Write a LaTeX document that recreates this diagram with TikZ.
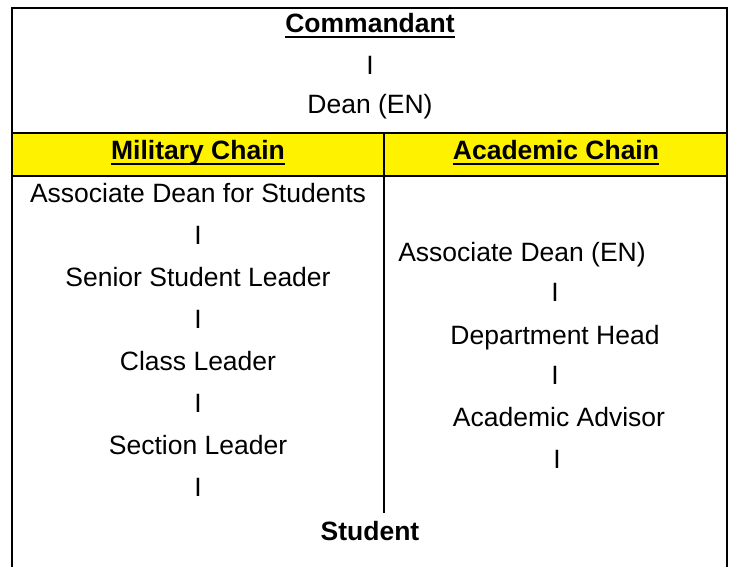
\documentclass[tikz,border=0pt]{standalone}
\usepackage{fontspec}
\setmainfont{Liberation Sans}
\newcommand\ulword[1]{\setbox0\hbox{#1}\rlap{\rule[-2.5pt]{\wd0}{1pt}}\box0}

\begin{document}
\begin{tikzpicture}[x=0.5pt,y=-0.5pt,line cap=rect,
	lbl/.style={anchor=base,inner sep=0pt,font=\fontsize{13.25}{16}\selectfont},
	hdr/.style={lbl,font=\fontsize{13.25}{16}\selectfont\bfseries}]
	\useasboundingbox (0,0) rectangle (730,567);
	\clip (0,0) rectangle (730,567);
	% table
	\fill[yellow] (12,133) rectangle (727,176);
	\draw[line width=1.25pt] (12,580) -- (12,8) -- (727,8) -- (727,580);
	\draw[line width=1.25pt] (12,133) -- (727,133) (12,176) -- (727,176);
	\draw[line width=1pt] (384,133) -- (384,512);
	% top
	\node[hdr] (cmdt) at (370,33) {\ulword{Commandant}};
	\node[lbl] (bar0) at (370,75) {I};
	\node[lbl] (dean) at (370,114) {Dean (EN)};
	\node[hdr] (mil) at (198,160) {\ulword{Military Chain}};
	\node[hdr] (acad) at (556,160) {\ulword{Academic Chain}};
	% military chain
	\foreach \name/\y/\txt in {ads/203/Associate Dean for Students,bm1/245/I,
		ssl/287/Senior Student Leader,bm2/329/I,cls/371/Class Leader,bm3/413/I,
		sec/455/Section Leader,bm4/497/I}
		\node[lbl] (\name) at (198,\y) {\txt};
	% academic chain
	\node[lbl] (ade) at (522,262) {Associate Dean (EN)};
	\node[lbl] (ba1) at (555,302) {I};
	\node[lbl] (dph) at (555,345) {Department Head};
	\node[lbl] (ba2) at (555,385) {I};
	\node[lbl] (adv) at (559,427) {Academic Advisor};
	\node[lbl] (ba3) at (557,469) {I};
	\node[hdr] (stud) at (370,540) {Student};
\end{tikzpicture}
\end{document}
